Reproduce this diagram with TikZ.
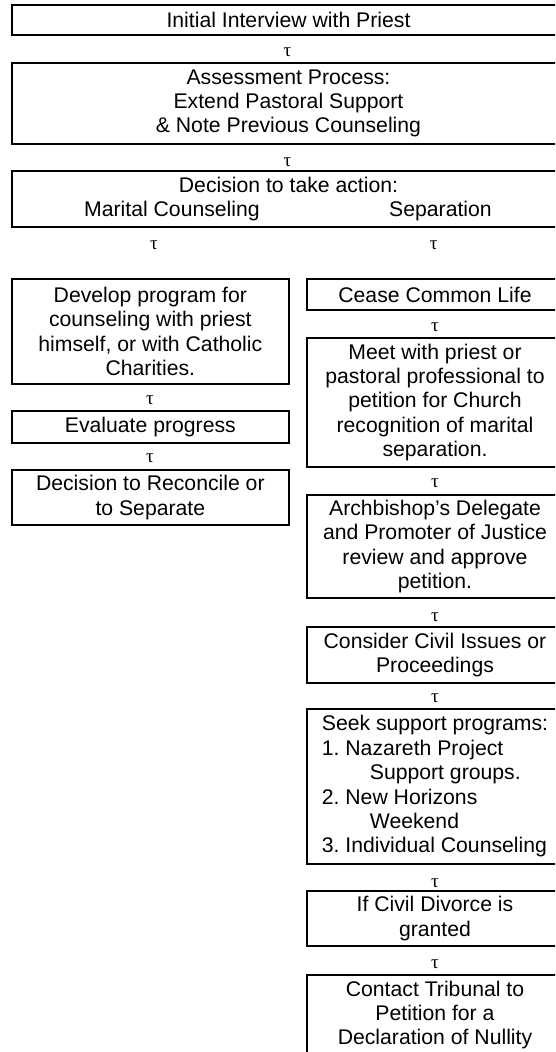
\documentclass[tikz,border=0pt]{standalone}
\usepackage{fontspec}
\setmainfont{Liberation Sans}
\newfontfamily\taufont{Liberation Serif}
\frenchspacing
\begin{document}
\begin{tikzpicture}[x=1pt,y=-1pt,
  box/.style={draw, line width=2pt, align=center, inner sep=0pt,
    font=\frenchspacing\fontsize{21.2}{24.4}\selectfont},
  topbox/.style={box, minimum width=553.6pt},
  leftbox/.style={box, minimum width=277.3pt},
  rightbox/.style={box, minimum width=256pt},
  taulabel/.style={inner sep=0pt, font=\taufont\fontsize{19}{19}\selectfont}]
\useasboundingbox (0,0) rectangle (555,1052);
\clip (0,0) rectangle (555,1052);
% top column
\node[topbox, minimum height=30.3pt] (init) at (288.5,19.9) {Initial Interview with Priest};
\node[taulabel] (t1) at (287.5,52.7) {τ};
\node[topbox, minimum height=81pt] (assess) at (288.5,103.5) {Assessment Process:\\Extend Pastoral Support\\\& Note Previous Counseling};
\node[taulabel] (t2) at (287.5,162) {τ};
\node[topbox, minimum height=56pt] (decide) at (288.5,199) {Decision to take action:\\\rlap{\hspace{-116.5pt}\makebox[0pt]{Marital Counseling}}\rlap{\hspace{152pt}\makebox[0pt]{Separation}}};
\node[taulabel] (t3a) at (154,245) {τ};
\node[taulabel] (t3b) at (433.6,245) {τ};
% left column
\node[leftbox, minimum height=105pt] (develop) at (150.35,331.5) {Develop program for\\counseling with priest\\himself, or with Catholic\\Charities.};
\node[taulabel] (t4) at (150,400) {τ};
\node[leftbox, minimum height=32pt] (evaluate) at (150.35,427) {Evaluate progress};
\node[taulabel] (t5) at (150,458) {τ};
\node[leftbox, minimum height=55pt] (reconcile) at (150.35,497.5) {Decision to Reconcile or\\to Separate};
% right column
\node[rightbox, minimum height=31pt] (cease) at (435,294.5) {Cease Common Life};
\node[taulabel] (t6) at (435,327) {τ};
\node[rightbox, minimum height=129pt] (meet) at (435,402.5) {Meet with priest or\\pastoral professional to\\petition for Church\\recognition of marital\\separation.};
\node[taulabel] (t7) at (435,483) {τ};
\node[rightbox, minimum height=103pt] (arch) at (435,546.5) {Archbishop’s Delegate\\and Promoter of Justice\\review and approve\\petition.};
\node[taulabel] (t8) at (435,617) {τ};
\node[rightbox, minimum height=56pt] (civil) at (435,655) {Consider Civil Issues or\\Proceedings};
\node[taulabel] (t9) at (435,698) {τ};
\node[rightbox, minimum height=155pt, align=left] (seek) at (435,786.5) {Seek support programs:\\1. Nazareth Project\\\hspace*{48pt}Support groups.\\2. New Horizons\\\hspace*{48pt}Weekend\\3. Individual Counseling};
\node[taulabel] (t10) at (435,883) {τ};
\node[rightbox, minimum height=55pt] (divorce) at (435,918.5) {If Civil Divorce is\\granted};
\node[taulabel] (t11) at (435,964) {τ};
\node[rightbox, minimum height=80pt] (contact) at (435,1015) {Contact Tribunal to\\Petition for a\\Declaration of Nullity};
\end{tikzpicture}
\end{document}
